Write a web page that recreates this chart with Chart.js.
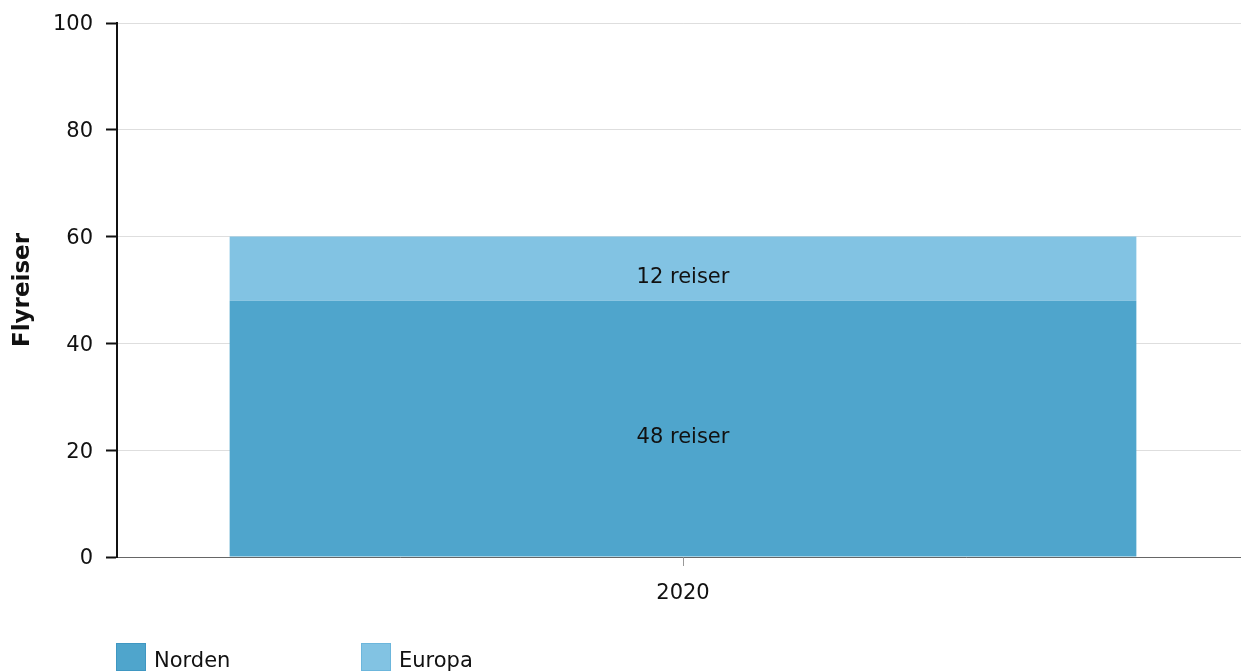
<!DOCTYPE html>
<html>
<head>
<meta charset="utf-8">
<script src="https://cdn.jsdelivr.net/npm/chart.js@4/dist/chart.umd.min.js"></script>
<style>
    body { margin: 0; background: #fff; font-family: "DejaVu Sans", Verdana, sans-serif; }
    #wrap { position: relative; width: 1241px; height: 671px; overflow: hidden; }
    #legend { position: absolute; left: 116px; top: 643px; display: flex; font-size: 21px; color: #111; }
    .item { display: flex; align-items: flex-start; width: 245px; }
    .box { width: 30px; height: 28px; margin-right: 8px; box-sizing: border-box; border: 1px solid; }
    .item span:last-child { line-height: 34px; }
</style>
</head>
<body>
<div id="wrap">
    <canvas id="chart" width="1249" height="671"></canvas>
    <div id="legend"></div>
</div>
<script>
    const years = ["2020"];
    const seriesNames = ["Norden", "Europa"];
    const nordenValues = [48];
    const europaValues = [12];
    const yTicks = [0, 20, 40, 60, 80, 100];

    const colors = ["#4fa5cc", "#82c3e3"];
    const borders = ["#3f97c2", "#6cb6dc"];

    // draws "xx reiser" in the middle of each bar segment
    const barLabels = {
        id: "barLabels",
        afterDatasetsDraw(chart) {
            const ctx = chart.ctx;
            ctx.save();
            ctx.font = "21px 'DejaVu Sans', Verdana, sans-serif";
            ctx.fillStyle = "#111";
            ctx.textAlign = "center";
            ctx.textBaseline = "middle";
            chart.data.datasets.forEach((ds, i) => {
                chart.getDatasetMeta(i).data.forEach((bar, j) => {
                    const mid = (bar.y + bar.base) / 2;
                    ctx.fillText(ds.data[j] + " reiser", bar.x, mid + 9);
                });
            });
            ctx.restore();
        }
    };

    new Chart(document.getElementById("chart"), {
        type: "bar",
        data: {
            labels: years,
            datasets: [
                { label: seriesNames[0], data: nordenValues, backgroundColor: colors[0] },
                { label: seriesNames[1], data: europaValues, backgroundColor: colors[1] }
            ]
        },
        options: {
            responsive: false,
            animation: false,
            layout: { padding: { top: 23, right: 0, bottom: 0, left: 0 } },
            datasets: { bar: { barPercentage: 0.801, categoryPercentage: 1 } },
            plugins: { legend: { display: false }, tooltip: { enabled: false } },
            scales: {
                x: {
                    stacked: true,
                    grid: { offset: false, drawOnChartArea: false, tickColor: "#999", tickLength: 9 },
                    border: { color: "#666", width: 1 },
                    ticks: { color: "#111", font: { size: 21, family: "'DejaVu Sans'" }, padding: 15 },
                    afterFit(scale) { scale.height = 114; scale.paddingLeft = 0; scale.paddingRight = 0; }
                },
                y: {
                    stacked: true,
                    min: 0,
                    max: 100,
                    z: 1,
                    afterBuildTicks(scale) { scale.ticks = yTicks.map(v => ({ value: v })); },
                    grid: { color: "rgba(0,0,0,0.13)", tickColor: "#111", tickWidth: 2, tickLength: 11 },
                    border: { color: "#111", width: 2 },
                    ticks: { color: "#111", font: { size: 21, family: "'DejaVu Sans'" }, padding: 13, labelOffset: 2 },
                    title: {
                        display: true,
                        text: "Flyreiser",
                        color: "#111",
                        font: { size: 23, weight: "bold", family: "'DejaVu Sans'" },
                        padding: { top: 9, bottom: 0 }
                    },
                    afterFit(scale) { scale.width = 117; scale.paddingTop = 0; scale.paddingBottom = 0; }
                }
            }
        },
        plugins: [barLabels]
    });

    const legend = document.getElementById("legend");
    seriesNames.forEach((name, i) => {
        const item = document.createElement("div");
        item.className = "item";
        const box = document.createElement("span");
        box.className = "box";
        box.style.background = colors[i];
        box.style.borderColor = borders[i];
        const txt = document.createElement("span");
        txt.textContent = name;
        item.appendChild(box);
        item.appendChild(txt);
        legend.appendChild(item);
    });
</script>
</body>
</html>
